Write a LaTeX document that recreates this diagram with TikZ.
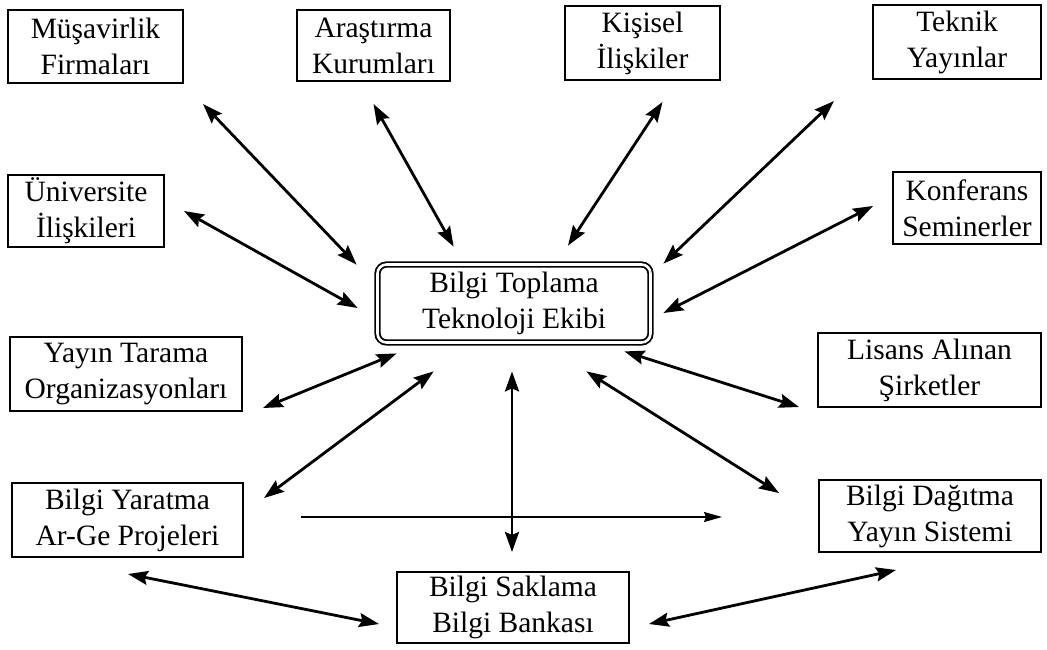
\documentclass[tikz,border=0pt]{standalone}
\usepackage{fontspec}
\setmainfont{Liberation Serif}
\usetikzlibrary{arrows.meta,calc}
\begin{document}
\begin{tikzpicture}[x=1pt,y=-1pt,
  box/.style={draw,line width=2pt,inner sep=0pt,align=center,
    font=\fontsize{29.5}{36}\selectfont},
  hub/.style={box,rounded corners=9pt,double,double distance=2.6pt,line width=1.8pt},
  link/.style={line width=2.8pt,
    {Stealth[length=20pt,width=14pt,inset=3pt]}-{Stealth[length=20pt,width=14pt,inset=3pt]}},
  flow/.style={line width=1.4pt,-{Stealth[length=18pt,width=10pt,inset=2pt]}}]
\useasboundingbox (0,0) rectangle (1047,649);

% hub
\node[hub,minimum width=273pt,minimum height=78pt] (ctr) at (514,303.5)
  {Bilgi Toplama\\Teknoloji Ekibi};

% surrounding sources and targets
\node[box,minimum width=175pt,minimum height=73pt] (mus) at (95.5,46.5) {Müşavirlik\\Firmaları};
\node[box,minimum width=153pt,minimum height=71pt] (ara) at (373.5,45.5) {Araştırma\\Kurumları};
\node[box,minimum width=155pt,minimum height=74pt] (kis) at (642.5,43) {Kişisel\\İlişkiler};
\node[box,minimum width=168pt,minimum height=74pt] (tek) at (957,42) {Teknik\\Yayınlar};
\node[box,minimum width=156pt,minimum height=72pt] (uni) at (86,211) {Üniversite\\İlişkileri};
\node[box,minimum width=148pt,minimum height=72pt] (kon) at (967,208) {Konferans\\Seminerler};
\node[box,minimum width=232pt,minimum height=74pt] (yay) at (126,374) {Yayın Tarama\\Organizasyonları};
\node[box,minimum width=223pt,minimum height=74pt] (lis) at (929.5,370) {Lisans Alınan\\Şirketler};
\node[box,minimum width=231pt,minimum height=74pt] (yar) at (127.5,520) {Bilgi Yaratma\\Ar-Ge Projeleri};
\node[box,minimum width=222pt,minimum height=72pt] (dag) at (930,516) {Bilgi Dağıtma\\Yayın Sistemi};
\node[box,minimum width=232pt,minimum height=71pt] (sak) at (513,607.5) {Bilgi Saklama\\Bilgi Bankası};

% two-way links
\draw[link] ($(mus.south east)+(19,20)$) -- ($(ctr.north west)+(-20,1)$);
\draw[link] ($(ara.south)+(0,22)$) -- ($(ctr.north west)+(77,-17)$);
\draw[link] ($(kis.south)+(20,21)$) -- ($(ctr.north)+(54,-18)$);
\draw[link] ($(tek.south west)+(-38,21)$) -- ($(ctr.north east)+(12,0)$);
\draw[link] ($(uni.east)+(19,0)$) -- ($(ctr.west)+(-19,4.5)$);
\draw[link] ($(kon.west)+(-19,-2)$) -- ($(ctr.east)+(12,9.5)$);
\draw[link] ($(yay.south east)+(20,-4)$) -- ($(ctr.south west)+(20,10)$);
\draw[link] ($(yar.north east)+(20,16)$) -- ($(ctr.south west)+(57,28)$);
\draw[link] ($(ctr.south)+(-2,28)$) -- ($(sak.north)+(-1,-19)$);
\draw[link] ($(ctr.south east)+(-27,8)$) -- ($(lis.south west)+(-18,-1)$);
\draw[link] ($(ctr.south east)+(-65,28)$) -- ($(dag.north west)+(-39,14)$);
\draw[link] ($(yar.south)+(0.5,16)$) -- ($(sak.west)+(-17,16.5)$);
\draw[link] ($(sak.east)+(19,16.5)$) -- ($(dag.south)+(-34,17)$);

% one-way flow
\draw[flow] ($(yar.east)+(57,-3)$) -- ($(dag.west)+(-96,1)$);
\end{tikzpicture}
\end{document}
